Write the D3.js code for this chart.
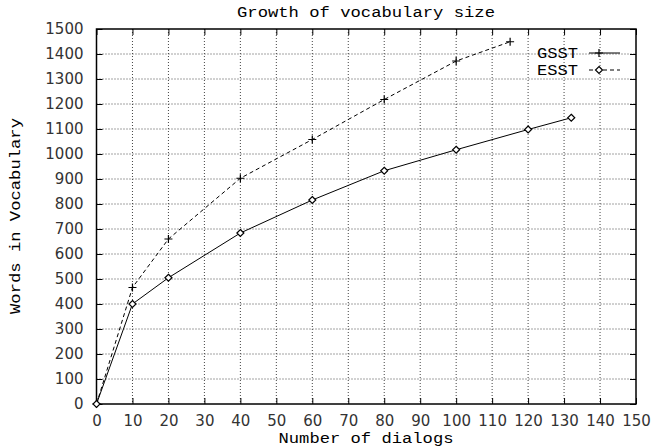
<!DOCTYPE html>
<html>
<head>
<meta charset="utf-8">
<script src="https://cdn.jsdelivr.net/npm/d3@7"></script>
<style>
  body { margin: 0; background: #fff; }
  svg { display: block; }
</style>
</head>
<body>
<div id="wrapper"></div>
<script>
// data
const esstDialogs = [0, 10, 20, 40, 60, 80, 100, 115];
const esstWords = [0, 466, 660, 903, 1058, 1218, 1372, 1449];
const gsstDialogs = [0, 10, 20, 40, 60, 80, 100, 120, 132];
const gsstWords = [0, 400, 505, 684, 816, 933, 1017, 1098, 1145];
const xTicks = d3.range(0, 151, 10);
const yTicks = d3.range(0, 1501, 100);

function draw() {
  const dimensions = {
    width: 653,
    height: 447,
    margin: { top: 29, right: 17, bottom: 43, left: 96.5 }
  };
  const innerW = dimensions.width - dimensions.margin.left - dimensions.margin.right;
  const innerH = dimensions.height - dimensions.margin.top - dimensions.margin.bottom;

  const svg = d3.select("#wrapper")
    .append("svg")
      .attr("width", dimensions.width)
      .attr("height", dimensions.height);

  const bounds = svg.append("g")
    .attr("transform", "translate(" + dimensions.margin.left + ", " + dimensions.margin.top + ")");

  const x = d3.scaleLinear().domain([0, 150]).range([0, innerW]);
  const y = d3.scaleLinear().domain([0, 1500]).range([innerH, 0]);

  // grid
  bounds.append("g")
    .selectAll("line")
    .data(xTicks.slice(1, -1))
    .join("line")
      .attr("x1", d => x(d)).attr("x2", d => x(d))
      .attr("y1", 0).attr("y2", innerH)
      .attr("stroke", "#444").attr("stroke-width", 1)
      .attr("stroke-dasharray", "1,2");
  bounds.append("g")
    .selectAll("line")
    .data(yTicks.slice(1, -1))
    .join("line")
      .attr("x1", 0).attr("x2", innerW)
      .attr("y1", d => y(d)).attr("y2", d => y(d))
      .attr("stroke", "#444").attr("stroke-width", 1)
      .attr("stroke-dasharray", "1,2");

  // axes with inner ticks on all sides
  const tickFont = "'DejaVu Sans', sans-serif";
  const fmt = d3.format("d");
  const xAxis = bounds.append("g")
    .attr("transform", "translate(0," + innerH + ")")
    .call(d3.axisBottom(x).tickValues(xTicks).tickFormat(fmt).tickSize(-6).tickPadding(14).tickSizeOuter(0));
  const yAxis = bounds.append("g")
    .call(d3.axisLeft(y).tickValues(yTicks).tickFormat(fmt).tickSize(-6).tickPadding(13).tickSizeOuter(0));
  bounds.append("g")
    .call(d3.axisTop(x).tickValues(xTicks).tickSize(-6).tickFormat("").tickSizeOuter(0));
  bounds.append("g")
    .attr("transform", "translate(" + innerW + ",0)")
    .call(d3.axisRight(y).tickValues(yTicks).tickSize(-6).tickFormat("").tickSizeOuter(0));
  bounds.selectAll(".domain").remove();
  [xAxis, yAxis].forEach(a => a.selectAll("text")
    .attr("font-family", tickFont)
    .attr("font-size", 15)
    .attr("fill", "#333"));
  xAxis.selectAll("text").attr("dy", "0.55em");

  bounds.append("rect")
    .attr("width", innerW).attr("height", innerH)
    .attr("fill", "none").attr("stroke", "#000").attr("stroke-width", 1.5);

  // lines
  const line = d3.line().x(d => x(d[0])).y(d => y(d[1]));
  const esst = d3.zip(esstDialogs, esstWords);
  const gsst = d3.zip(gsstDialogs, gsstWords);

  bounds.append("path")
    .attr("d", line(esst))
    .attr("fill", "none").attr("stroke", "#000").attr("stroke-width", 1)
    .attr("stroke-dasharray", "4,3");
  bounds.append("path")
    .attr("d", line(gsst))
    .attr("fill", "none").attr("stroke", "#000").attr("stroke-width", 1);

  const plus = "M-4,0H4M0,-4V4";
  const diamond = "M0,-3.5L3.5,0L0,3.5L-3.5,0Z";

  bounds.append("g")
    .selectAll("path")
    .data(esst)
    .join("path")
      .attr("transform", d => "translate(" + x(d[0]) + "," + y(d[1]) + ")")
      .attr("d", plus)
      .attr("stroke", "#000").attr("stroke-width", 1.2).attr("fill", "none");
  bounds.append("g")
    .selectAll("path")
    .data(gsst)
    .join("path")
      .attr("transform", d => "translate(" + x(d[0]) + "," + y(d[1]) + ")")
      .attr("d", diamond)
      .attr("stroke", "#000").attr("stroke-width", 1.2).attr("fill", "#fff");

  // text
  const mono = "'Liberation Mono', 'Courier New', monospace";
  svg.append("text")
    .attr("x", 366).attr("y", 17)
    .attr("text-anchor", "middle")
    .attr("font-family", mono).attr("font-size", 14)
    .attr("textLength", 258).attr("lengthAdjust", "spacingAndGlyphs")
    .text("Growth of vocabulary size");
  svg.append("text")
    .attr("x", 366).attr("y", 443)
    .attr("text-anchor", "middle")
    .attr("font-family", mono).attr("font-size", 14)
    .attr("textLength", 175).attr("lengthAdjust", "spacingAndGlyphs")
    .text("Number of dialogs");
  svg.append("text")
    .attr("transform", "translate(20,216) rotate(-90)")
    .attr("text-anchor", "middle")
    .attr("font-family", mono).attr("font-size", 14)
    .attr("textLength", 196).attr("lengthAdjust", "spacingAndGlyphs")
    .text("Words in Vocabulary");

  // legend (kept as drawn in the original)
  const legend = svg.append("g");
  const legendItems = [
    { name: "GSST", dash: null, mark: plus, cy: 53 },
    { name: "ESST", dash: "4,3", mark: diamond, cy: 70 }
  ];
  legendItems.forEach(item => {
    legend.append("text")
      .attr("x", 578).attr("y", item.cy + 5)
      .attr("text-anchor", "end")
      .attr("font-family", mono).attr("font-size", 14)
      .attr("textLength", 41).attr("lengthAdjust", "spacingAndGlyphs")
      .text(item.name);
    legend.append("line")
      .attr("x1", 589).attr("x2", 620)
      .attr("y1", item.cy).attr("y2", item.cy)
      .attr("stroke", "#000").attr("stroke-width", 1)
      .attr("stroke-dasharray", item.dash);
    legend.append("path")
      .attr("transform", "translate(599," + item.cy + ")")
      .attr("d", item.mark)
      .attr("stroke", "#000").attr("stroke-width", 1.2).attr("fill", "#fff");
  });
}
draw();
</script>
</body>
</html>
